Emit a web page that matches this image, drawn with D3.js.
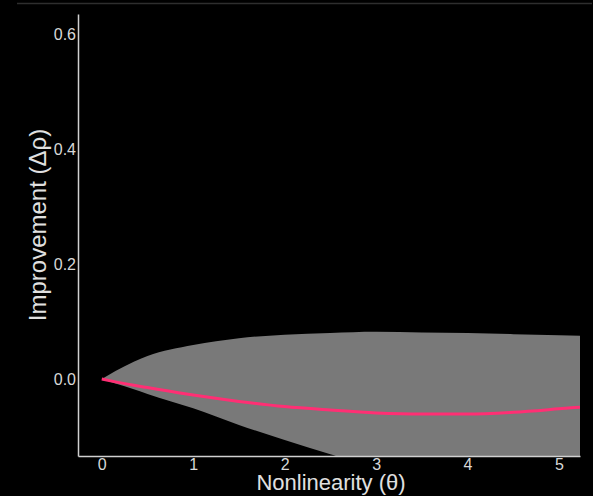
<!DOCTYPE html>
<html>
<head>
<meta charset="utf-8">
<style>
body { margin: 0; background: #000; overflow: hidden; }
.axis path { stroke: #d0d0d0; stroke-width: 1.5; }
.axis .tick line { display: none; }
.axis .tick text { fill: #d8d8d8; }
.title { fill: #e0e0e0; font-family: "Liberation Sans", Arial, sans-serif; font-size: 22px; }
</style>
</head>
<body>
<svg width="593" height="496"></svg>
<script src="https://cdnjs.cloudflare.com/ajax/libs/d3/7.8.5/d3.min.js"></script>
<script>

// nonlinearity values
var theta = [0, 0.15, 0.35, 0.5, 1, 1.5, 2, 2.5, 3, 3.5, 4, 4.5, 5, 5.23];
// mean improvement (pink line)
var meanImp = [0, -0.005, -0.011, -0.015, -0.028, -0.039, -0.048, -0.054, -0.059, -0.061, -0.061, -0.058, -0.052, -0.049];
// band upper / lower
var upper = [0, 0.014, 0.030, 0.040, 0.059, 0.071, 0.077, 0.080, 0.082, 0.081, 0.080, 0.078, 0.076, 0.075];
var lower = [0, -0.008, -0.018, -0.026, -0.051, -0.080, -0.106, -0.131, -0.156, -0.180, -0.200, -0.220, -0.240, -0.250];

var xTicks = [0, 1, 2, 3, 4, 5];
var yTicks = [0.0, 0.2, 0.4, 0.6];

var svg = d3.select("svg"),
    margin = {top: 14, right: 13, bottom: 40, left: 78},
    width = 593 - margin.left - margin.right,
    height = 496 - margin.top - margin.bottom;

// thin line at the very top
svg.append("line")
    .attr("x1", 17).attr("x2", 592)
    .attr("y1", 3.5).attr("y2", 3.5)
    .attr("stroke", "#2e2e2e").attr("stroke-width", 1.5);

var x = d3.scaleLinear().domain([-0.26, 5.23]).range([0, width]),
    y = d3.scaleLinear().domain([-0.134, 0.635]).range([height, 0]);

var g = svg.append("g")
    .attr("transform", "translate(" + margin.left + "," + margin.top + ")");

g.append("clipPath").attr("id", "clip")
  .append("rect").attr("width", width).attr("height", height);

var rows = theta.map(function(t, i) {
  return {t: t, m: meanImp[i], hi: upper[i], lo: lower[i]};
});

var band = d3.area()
    .curve(d3.curveMonotoneX)
    .x(function(d) { return x(d.t); })
    .y0(function(d) { return y(d.lo); })
    .y1(function(d) { return y(d.hi); });

var line = d3.line()
    .curve(d3.curveMonotoneX)
    .x(function(d) { return x(d.t); })
    .y(function(d) { return y(d.m); });

g.append("path")
    .datum(rows)
    .attr("clip-path", "url(#clip)")
    .attr("fill", "#797979")
    .attr("d", band);

g.append("path")
    .datum(rows)
    .attr("clip-path", "url(#clip)")
    .attr("fill", "none")
    .attr("stroke", "#ff2f74")
    .attr("stroke-width", 3)
    .attr("d", line);

g.append("g")
    .attr("class", "axis")
    .attr("transform", "translate(0," + height + ")")
    .call(d3.axisBottom(x).tickValues(xTicks).tickSize(0).tickSizeOuter(0).tickPadding(3).tickFormat(d3.format("d")))
    .attr("font-size", 16)
    .attr("font-family", "Liberation Sans, Arial, sans-serif");

g.append("g")
    .attr("class", "axis")
    .call(d3.axisLeft(y).tickValues(yTicks).tickSize(0).tickSizeOuter(0).tickPadding(2).tickFormat(d3.format(".1f")))
    .attr("font-size", 16)
    .attr("font-family", "Liberation Sans, Arial, sans-serif");

svg.append("text")
    .attr("class", "title")
    .attr("x", margin.left + width / 2 + 2)
    .attr("y", 490)
    .attr("text-anchor", "middle")
    .text("Nonlinearity (θ)");

svg.append("text")
    .attr("class", "title")
    .attr("transform", "translate(46,225) rotate(-90)")
    .attr("text-anchor", "middle")
    .style("font-size", "24px")
    .text("Improvement (Δρ)");

</script>
</body>
</html>
